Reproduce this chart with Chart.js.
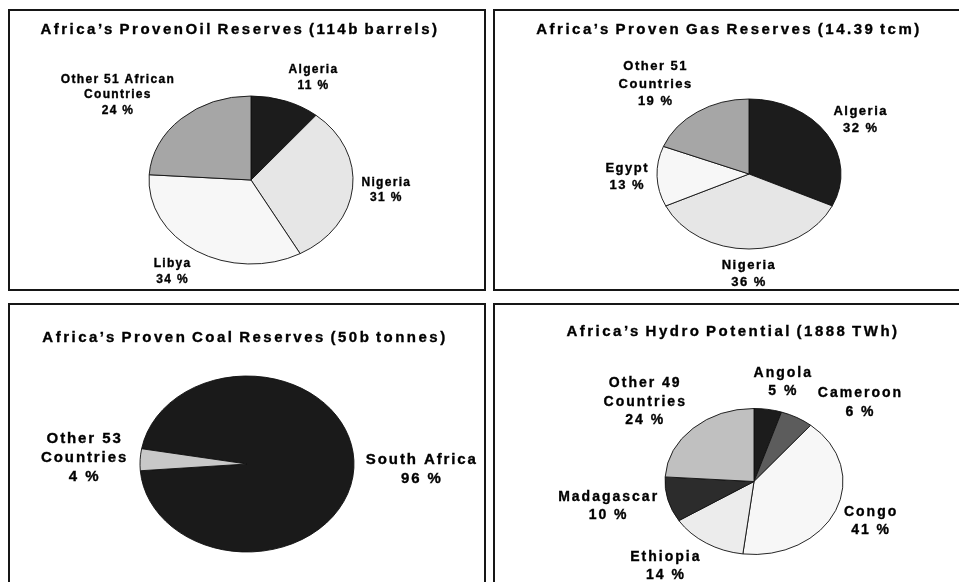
<!DOCTYPE html>
<html>
<head>
<meta charset="utf-8">
<script src="https://cdn.jsdelivr.net/npm/chart.js@4.4.1/dist/chart.umd.min.js"></script>
<style>
  html, body { margin: 0; padding: 0; background: #fff; width: 959px; height: 582px; overflow: hidden; }
  .panel { position: absolute; width: 474px; height: 278px; border: 2px solid #161616; background: #fff; }
  .panel canvas { display: block; }
</style>
</head>
<body>
<div class="panel" style="left:8px;top:9px"><canvas id="oil" width="474" height="278"></canvas></div>
<div class="panel" style="left:493px;top:9px"><canvas id="gas" width="474" height="278"></canvas></div>
<div class="panel" style="left:8px;top:303px"><canvas id="coal" width="474" height="278"></canvas></div>
<div class="panel" style="left:493px;top:303px"><canvas id="hydro" width="474" height="278"></canvas></div>
<script>
// ---- data ----
const oilLabels = ['Algeria', 'Nigeria', 'Libya', ['Other 51 African', 'Countries']];
const oilShares = [11, 31, 34, 24];

const gasLabels = ['Algeria', 'Nigeria', 'Egypt', ['Other 51', 'Countries']];
const gasShares = [32, 36, 13, 19];

const coalLabels = ['South Africa', ['Other 53', 'Countries']];
const coalShares = [96, 4];

const hydroLabels = ['Angola', 'Cameroon', 'Congo', 'Ethiopia', 'Madagascar', ['Other 49', 'Countries']];
const hydroShares = [5, 6, 41, 14, 10, 24];

const FONT = '"Liberation Sans", Arial, sans-serif';

// heavy text: fill plus a thin stroke of the same colour
function heavyText(ctx, t, x, y, weight) {
  ctx.fillText(t, x, y);
  if (weight > 0) {
    ctx.lineWidth = weight;
    ctx.strokeText(t, x, y);
  }
}

function overlaps(a, b, pad) {
  return a.x1 + pad > b.x0 && b.x1 + pad > a.x0 && a.y1 + pad > b.y0 && b.y1 + pad > a.y0;
}

// Draws the pie squashed into an ellipse, plus the outside labels and the title.
const ellipsePie = {
  id: 'ellipsePie',
  beforeDatasetsDraw(chart, args, o) {
    const arc = chart.getDatasetMeta(0).data[0];
    const ctx = chart.ctx;
    ctx.save();
    ctx.translate(arc.x, arc.y);
    ctx.scale(1, o.squash);
    ctx.translate(-arc.x, -arc.y);
  },
  afterDatasetsDraw(chart, args, o) {
    const ctx = chart.ctx;
    ctx.restore();
    const meta = chart.getDatasetMeta(0);
    const values = chart.data.datasets[0].data;
    ctx.save();
    ctx.font = `bold ${o.size}px ${FONT}`;
    ctx.letterSpacing = o.spacing + 'px';
    ctx.fillStyle = '#000';
    ctx.strokeStyle = '#000';
    ctx.textAlign = 'center';
    ctx.textBaseline = 'middle';
    const placed = [];
    meta.data.forEach((arc, i) => {
      const p = arc.getProps(['x', 'y', 'startAngle', 'endAngle', 'outerRadius'], true);
      const mid = (p.startAngle + p.endAngle) / 2;
      const c = Math.cos(mid), s = Math.sin(mid);
      const lines = [].concat(chart.data.labels[i], values[i] + ' %');
      const w = Math.max(...lines.map(t => ctx.measureText(t).width));
      const h = lines.length * o.lineHeight;
      // horizontal: box edge hangs off a point just outside the rim
      const ax = p.x + c * (p.outerRadius + o.gap);
      let bx = ax + Math.max(-1, Math.min(1, c * 3)) * w / 2;
      // vertical: box centre on the rim grown by gap and half the box height
      let by = p.y + s * (p.outerRadius * o.squash + o.gap + h / 2);
      // slide clockwise along the rim while it collides with an earlier label
      const box = () => ({ x0: bx - w / 2, x1: bx + w / 2, y0: by - h / 2, y1: by + h / 2 });
      let guard = 0;
      while (placed.some(b => overlaps(box(), b, 4)) && guard++ < 200) {
        bx += -s;
        by += c;
      }
      placed.push(box());
      lines.forEach((t, j) => heavyText(ctx, t, bx, by - h / 2 + o.lineHeight * (j + 0.5), o.weight));
    });
    ctx.restore();
  },
  afterDraw(chart, args, o) {
    const ctx = chart.ctx;
    ctx.save();
    ctx.font = `bold ${o.titleSize}px ${FONT}`;
    ctx.letterSpacing = o.titleSpacing + 'px';
    ctx.wordSpacing = o.titleWordSpacing + 'px';
    ctx.fillStyle = '#000';
    ctx.strokeStyle = '#000';
    ctx.textAlign = 'center';
    ctx.textBaseline = 'middle';
    heavyText(ctx, o.title, o.titleX, o.titleY, o.weight);
    ctx.restore();
  }
};

function makePie(id, labels, values, colors, cfg) {
  const canvas = document.getElementById(id);
  const W = canvas.width, H = canvas.height;
  const r = cfg.rx;
  new Chart(canvas, {
    type: 'pie',
    data: {
      labels: labels,
      datasets: [{
        data: values,
        backgroundColor: colors,
        borderColor: '#111',
        borderWidth: 1
      }]
    },
    options: {
      responsive: false,
      animation: false,
      events: [],
      radius: r,
      rotation: cfg.rotation || 0,
      layout: {
        padding: {
          left: cfg.cx - r,
          right: W - cfg.cx - r,
          top: cfg.cy - r,
          bottom: H - cfg.cy - r
        }
      },
      plugins: {
        legend: { display: false },
        tooltip: { enabled: false },
        title: { display: false },
        ellipsePie: {
          squash: cfg.ry / cfg.rx,
          gap: cfg.gap,
          size: cfg.size,
          spacing: cfg.spacing,
          lineHeight: cfg.lineHeight,
          weight: 0.35,
          title: cfg.title,
          titleX: cfg.titleX,
          titleY: cfg.titleY,
          titleSize: 15,
          titleSpacing: 2.5,
          titleWordSpacing: -2
        }
      }
    },
    plugins: [ellipsePie]
  });
}

makePie('oil', oilLabels, oilShares,
  ['#1c1c1c', '#e6e6e6', '#f7f7f7', '#a6a6a6'],
  { cx: 241, cy: 169, rx: 102, ry: 84, gap: 9, size: 12, spacing: 1.3, lineHeight: 15.6,
    title: 'Africa\u2019s ProvenOil Reserves (114b barrels)', titleX: 230, titleY: 19 });

makePie('gas', gasLabels, gasShares,
  ['#1c1c1c', '#e6e6e6', '#f7f7f7', '#a6a6a6'],
  { cx: 254, cy: 163, rx: 92, ry: 75, gap: 8, size: 13, spacing: 1.5, lineHeight: 17.2,
    title: 'Africa\u2019s Proven Gas Reserves (14.39 tcm)', titleX: 234, titleY: 19 });

makePie('coal', coalLabels, coalShares,
  ['#1a1a1a', '#c8c8c8'],
  { cx: 237, cy: 159, rx: 107, ry: 88, rotation: -80, gap: 12, size: 15, spacing: 1.9, lineHeight: 19,
    title: 'Africa\u2019s Proven Coal Reserves (50b tonnes)', titleX: 235, titleY: 33 });

makePie('hydro', hydroLabels, hydroShares,
  ['#1c1c1c', '#5c5c5c', '#f7f7f7', '#ececec', '#2c2c2c', '#c0c0c0'],
  { cx: 259, cy: 176.5, rx: 89, ry: 73, gap: 9, size: 14, spacing: 2, lineHeight: 18.3,
    title: 'Africa\u2019s Hydro Potential (1888 TWh)', titleX: 238, titleY: 27 });
</script>
</body>
</html>
